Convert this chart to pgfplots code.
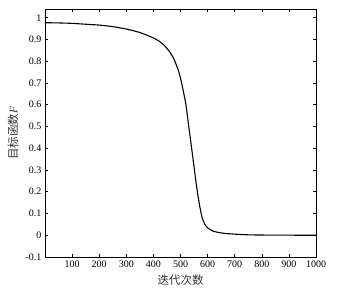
\documentclass[border=0pt]{standalone}
\usepackage{pgfplots}
\pgfplotsset{compat=1.18}
\usepackage{fontspec}
\setmainfont{Liberation Serif}
\newfontfamily\cjk{Noto Sans CJK SC}
\pgfplotstableread{
x y
0 0.977
50 0.976
100 0.974
150 0.970
200 0.966
250 0.959
300 0.948
350 0.932
400 0.907
420 0.893
440 0.873
460 0.843
475 0.812
490 0.765
500 0.722
510 0.665
520 0.600
530 0.505
540 0.410
550 0.315
560 0.218
570 0.140
580 0.080
590 0.050
600 0.034
620 0.019
640 0.013
660 0.009
700 0.005
750 0.002
800 0.001
900 0.0003
1000 0.0001
}\datatable
\begin{document}
\begin{tikzpicture}
\begin{axis}[
  scale only axis,
  width=271pt, height=248pt,
  xmin=0, xmax=1000, ymin=-0.1, ymax=1.04,
  xtick={100,200,...,1000},
  xticklabels={100,200,300,400,500,600,700,800,900,1000},
  ytick={-0.1,0,0.1,0.2,0.3,0.4,0.5,0.6,0.7,0.8,0.9,1},
  yticklabels={-0.1,0,0.1,0.2,0.3,0.4,0.5,0.6,0.7,0.8,0.9,1},
  tick label style={font=\fontsize{10}{12}\selectfont},
  tick align=inside,
  major tick length=3pt,
  axis line style={line width=0.8pt},
  every tick/.style={black, line width=0.6pt},
  xlabel={\cjk 迭代次数},
  ylabel={{\cjk 目标函数}\textit{F}},
  label style={font=\fontsize{11.5}{13}\selectfont, text=black!80},
  xlabel style={at={(axis description cs:0.5,-0.093)}, anchor=center},
  ylabel style={at={(axis description cs:-0.118,0.5)}, anchor=center},
]
\addplot[black, line width=1.1pt, smooth, tension=0.4] table[x=x,y=y] {\datatable};
\end{axis}
\pgfresetboundingbox
\path[use as bounding box] (current axis.south west) ++(-45pt,-36pt) rectangle ++(345pt,293pt);
\end{tikzpicture}
\end{document}
